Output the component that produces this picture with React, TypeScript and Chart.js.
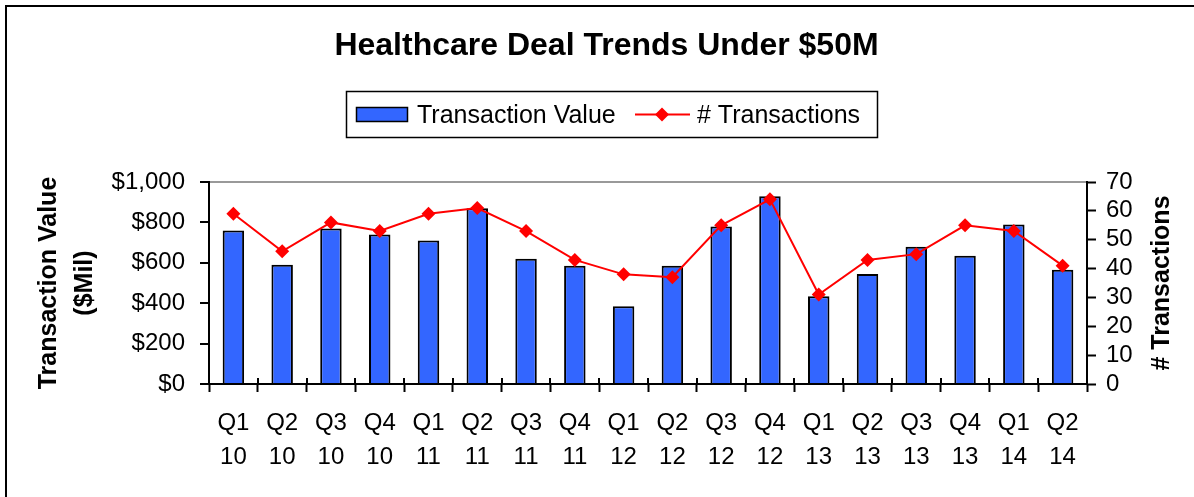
import React, { useEffect, useRef } from "react";
import { Chart, registerables } from "chart.js";

Chart.register(...registerables);

const quarters = ["Q1", "Q2", "Q3", "Q4", "Q1", "Q2", "Q3", "Q4", "Q1", "Q2", "Q3", "Q4", "Q1", "Q2", "Q3", "Q4", "Q1", "Q2"];
const years = ["10", "10", "10", "10", "11", "11", "11", "11", "12", "12", "12", "12", "13", "13", "13", "13", "14", "14"];
const transactionValue = [760, 590, 770, 740, 710, 870, 620, 585, 385, 585, 780, 930, 435, 545, 680, 635, 790, 565];
const transactionCount = [59, 46, 56, 53, 59, 61, 53, 43, 38, 37, 55, 64, 31, 43, 45, 55, 53, 41];
const leftTicksMax = 1000;
const rightTicksMax = 70;

const TITLE = "Healthcare Deal Trends Under $50M";
const RIGHT_TITLE = "# Transactions";
const FONT = "'Liberation Sans', Arial, Helvetica, sans-serif";
const BAR_COLOR = "#3366FF";
const LINE_COLOR = "#FF0000";

const decorPlugin = {
  id: "decor",
  afterDraw(chart: any) {
    const { ctx, chartArea } = chart;
    const xs = chart.scales.x;
    ctx.save();
    // inner halves of category tick marks
    ctx.strokeStyle = "#000";
    ctx.lineWidth = 2;
    for (let i = 0; i <= quarters.length; i++) {
      const px = Math.round(xs.getPixelForValue(i - 0.5));
      ctx.beginPath();
      ctx.moveTo(px, chartArea.bottom - 6);
      ctx.lineTo(px, chartArea.bottom);
      ctx.stroke();
    }
    // outer frame (top and left edges)
    ctx.lineWidth = 2;
    ctx.beginPath();
    ctx.moveTo(6, chart.height);
    ctx.lineTo(6, 6);
    ctx.lineTo(chart.width, 6);
    ctx.stroke();
    // title
    ctx.fillStyle = "#000";
    ctx.font = `bold 32px ${FONT}`;
    ctx.textAlign = "center";
    ctx.textBaseline = "alphabetic";
    ctx.fillText(TITLE, 606.5, 55);
    // right axis title (reads bottom to top)
    ctx.save();
    ctx.translate(1162, (chartArea.top + chartArea.bottom) / 2);
    ctx.rotate(-Math.PI / 2);
    ctx.font = `bold 25px ${FONT}`;
    ctx.textAlign = "center";
    ctx.textBaseline = "middle";
    ctx.fillText(RIGHT_TITLE, 0, 0);
    ctx.restore();
    // legend box
    ctx.lineWidth = 1.5;
    ctx.strokeStyle = "#000";
    ctx.strokeRect(346.5, 91.5, 531, 46);
    ctx.fillStyle = BAR_COLOR;
    ctx.fillRect(356.5, 107.5, 51, 14);
    ctx.strokeRect(356.5, 107.5, 51, 14);
    ctx.fillStyle = "#000";
    ctx.font = `25px ${FONT}`;
    ctx.textAlign = "left";
    ctx.fillText("Transaction Value", 417, 123);
    ctx.strokeStyle = LINE_COLOR;
    ctx.lineWidth = 2;
    ctx.beginPath();
    ctx.moveTo(635, 114.5);
    ctx.lineTo(690, 114.5);
    ctx.stroke();
    ctx.fillStyle = LINE_COLOR;
    ctx.beginPath();
    ctx.moveTo(662, 107.5);
    ctx.lineTo(669, 114.5);
    ctx.lineTo(662, 121.5);
    ctx.lineTo(655, 114.5);
    ctx.closePath();
    ctx.fill();
    ctx.fillStyle = "#000";
    ctx.fillText("# Transactions", 697, 123);
    ctx.restore();
  },
};

export default function App() {
  const canvasRef = useRef<HTMLCanvasElement | null>(null);

  useEffect(() => {
    document.body.style.margin = "0";
    const canvas = canvasRef.current;
    if (!canvas) return;
    const labels = quarters.map((q, i) => [q, years[i]]);
    const chart = new Chart(canvas, {
      type: "bar",
      data: {
        labels,
        datasets: [
          {
            type: "bar",
            label: "Transaction Value",
            data: transactionValue,
            backgroundColor: BAR_COLOR,
            borderColor: "#000",
            borderWidth: 2,
            barPercentage: 0.44,
            categoryPercentage: 1,
            yAxisID: "y",
            order: 1,
          },
          {
            type: "line",
            label: "# Transactions",
            data: transactionCount,
            borderColor: LINE_COLOR,
            backgroundColor: LINE_COLOR,
            borderWidth: 2,
            pointStyle: "rectRot",
            pointRadius: 7,
            pointBackgroundColor: LINE_COLOR,
            pointBorderColor: LINE_COLOR,
            pointBorderWidth: 0,
            tension: 0,
            yAxisID: "y1",
            order: 0,
          },
        ],
      } as any,
      options: {
        animation: false,
        responsive: true,
        maintainAspectRatio: false,
        layout: { padding: { top: 182, left: 0, right: 0, bottom: 0 } },
        plugins: {
          legend: { display: false },
          title: { display: false },
          tooltip: { enabled: false },
        },
        scales: {
          x: {
            grid: {
              display: true,
              drawOnChartArea: false,
              offset: true,
              tickLength: 8,
              tickColor: "#000",
              tickWidth: 2,
            },
            border: { color: "#000", width: 2 },
            ticks: {
              color: "#000",
              font: { family: FONT, size: 24, lineHeight: 1.42 },
              padding: 14,
              maxRotation: 0,
              autoSkip: false,
            },
            afterFit: (s: any) => {
              s.height = 113;
            },
          },
          y: {
            position: "left",
            min: 0,
            max: leftTicksMax,
            ticks: {
              stepSize: 200,
              autoSkip: false,
              color: "#000",
              font: { family: FONT, size: 24 },
              padding: 15,
              callback: (v: any) => "$" + Number(v).toLocaleString("en-US"),
            },
            grid: {
              color: (c: any) => (c.tick && c.tick.value === leftTicksMax ? "#999999" : "rgba(0,0,0,0)"),
              lineWidth: 2,
              tickLength: 9,
              tickColor: "#000",
              tickWidth: 2,
            },
            border: { color: "#000", width: 2 },
            title: {
              display: true,
              text: ["Transaction Value", "($Mil)"],
              color: "#000",
              font: { family: FONT, size: 25, weight: "bold", lineHeight: 1.44 },
              padding: { top: 31, bottom: 0 },
            },
            afterFit: (s: any) => {
              s.width = 209;
            },
          },
          y1: {
            position: "right",
            min: 0,
            max: rightTicksMax,
            ticks: {
              stepSize: 10,
              autoSkip: false,
              color: "#000",
              font: { family: FONT, size: 24 },
              padding: 10,
            },
            grid: {
              drawOnChartArea: false,
              tickLength: 9,
              tickColor: "#000",
              tickWidth: 2,
            },
            border: { color: "#000", width: 2 },
            title: { display: false },
            afterFit: (s: any) => {
              s.width = 107;
            },
          },
        },
      } as any,
      plugins: [decorPlugin],
    });
    return () => chart.destroy();
  }, []);

  return (
    <div style={{ position: "absolute", left: 0, top: 0, width: "1194px", height: "497px", background: "#fff" }}>
      <canvas ref={canvasRef} />
    </div>
  );
}
